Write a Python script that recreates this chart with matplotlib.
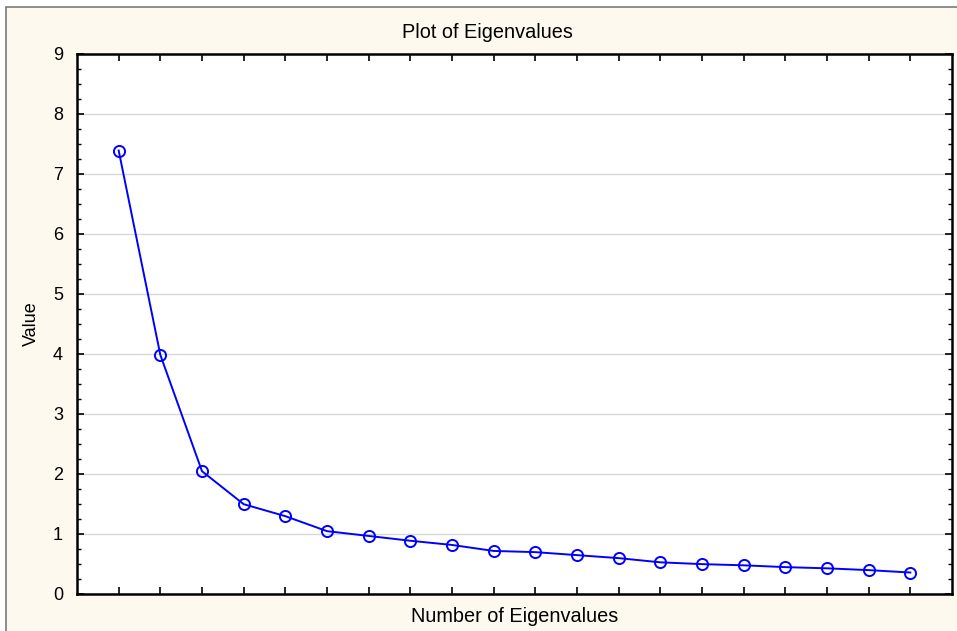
import numpy as np
import matplotlib.pyplot as plt
from matplotlib.patches import Rectangle
from matplotlib.ticker import MultipleLocator

plt.rcParams['font.family'] = ['Liberation Sans', 'DejaVu Sans']

# eigenvalues in order of extraction
numeros = np.arange(1, 21)
valores = [7.39, 3.98, 2.04, 1.49, 1.29, 1.04, 0.96, 0.88, 0.81, 0.71,
           0.69, 0.64, 0.59, 0.52, 0.49, 0.47, 0.44, 0.42, 0.39, 0.35]
y_ticks = [0, 1, 2, 3, 4, 5, 6, 7, 8, 9]

W, H = 957, 631
fig = plt.figure(figsize=(W / 100, H / 100), dpi=100)
fig.patch.set_facecolor('white')

# beige frame behind the plot
marco = Rectangle((6 / W, -0.01), 1.0, 1 - 7 / H + 0.01, transform=fig.transFigure,
                  facecolor='#fef9ef', edgecolor='#7a7a7a', linewidth=1.2, zorder=-5)
fig.patches.append(marco)

ax = fig.add_axes([77 / W, 1 - 593.5 / H, (952 - 77) / W, (593.5 - 54) / H])
ax.set_facecolor('white')

ax.plot(numeros, valores, color='#0000ff', linewidth=1.4, marker='o',
        markersize=8, markerfacecolor='none', markeredgecolor='#0000ff',
        markeredgewidth=1.4, zorder=3)

ax.set_xlim(0, 21)
ax.set_ylim(0, 9)
ax.set_xticks(numeros)
ax.set_xticklabels([])
ax.set_yticks(y_ticks)
ax.yaxis.set_minor_locator(MultipleLocator(0.25))
ax.tick_params(axis='both', which='major', direction='in', length=5, width=1.2,
               top=True, right=True, labelsize=13, pad=10, colors='black')
ax.tick_params(axis='y', which='minor', direction='in', length=3, width=1,
               left=True, right=True)
ax.grid(axis='y', which='major', color='#d8d8d8', linewidth=1)
ax.set_axisbelow(True)
for s in ax.spines.values():
    s.set_linewidth(1.8)
    s.set_color('black')

ax.set_xlabel('Number of Eigenvalues', fontsize=14.3, va='center')
ax.xaxis.set_label_coords(0.5, -(616 - 593.5) / (593.5 - 54))
ax.set_ylabel('Value', fontsize=13, va='center')
ax.yaxis.set_label_coords(-(77 - 31) / (952 - 77), 0.5)
fig.text(487 / W, 1 - 32 / H, 'Plot of Eigenvalues', fontsize=14.3,
         ha='center', va='center')

fig.savefig('out.png', dpi=100)
